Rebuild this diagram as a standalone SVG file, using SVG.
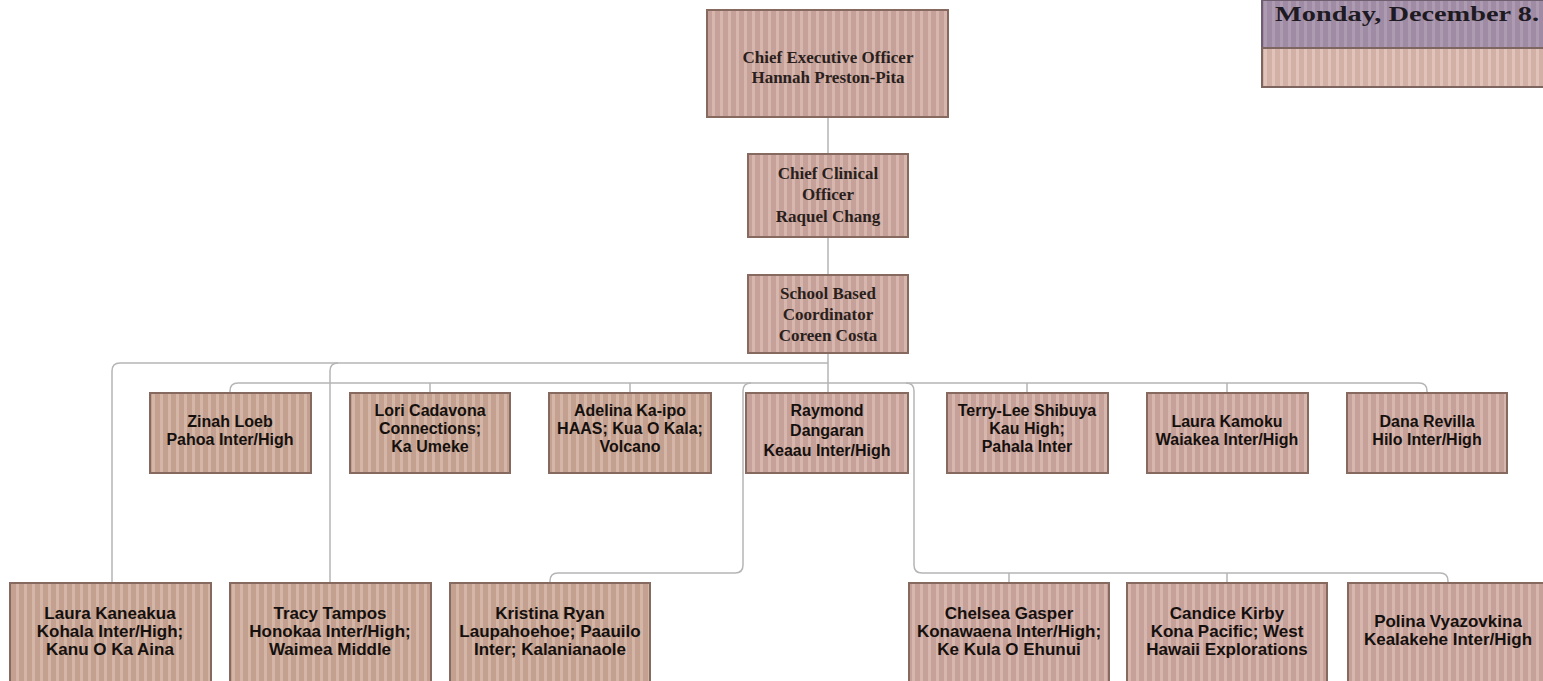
<svg xmlns="http://www.w3.org/2000/svg" width="1543" height="681" viewBox="0 0 1543 681">
<defs>
<pattern id="tan" width="8" height="10" patternUnits="userSpaceOnUse"><rect width="8" height="10" fill="#c3a08f"/><rect x="0" width="3" height="10" fill="#d4b6a6"/></pattern>
<pattern id="pink" width="8" height="10" patternUnits="userSpaceOnUse"><rect width="8" height="10" fill="#c6a199"/><rect x="0" width="3" height="10" fill="#d6b6ad"/></pattern>
<pattern id="purple" width="8" height="10" patternUnits="userSpaceOnUse"><rect width="8" height="10" fill="#9f8ba4"/><rect x="0" width="3" height="10" fill="#ad9bb2"/></pattern>
<pattern id="lighttan" width="8" height="10" patternUnits="userSpaceOnUse"><rect width="8" height="10" fill="#d3b0a5"/><rect x="0" width="3" height="10" fill="#e0c3b9"/></pattern>
</defs>
<style>
.box{stroke:#86695f;stroke-width:2}
.t{fill:url(#tan)}
.p{fill:url(#pink)}
.serif{font-family:"Liberation Serif","Times New Roman",serif;font-weight:bold;font-size:17px;fill:#2a1f1c;text-anchor:middle}
.sans{font-family:"Liberation Sans",Arial,sans-serif;font-weight:bold;font-size:16px;fill:#15100e;text-anchor:middle}
.sb{font-size:17px}
.conn{fill:none;stroke:#b5b5b5;stroke-width:1.5}
</style>
<rect width="1543" height="681" fill="#ffffff"/>

<g id="header">
<rect x="1262" y="0" width="290" height="48" fill="url(#purple)" stroke="#6f5d70" stroke-width="2"/>
<rect x="1262" y="48" width="290" height="39" fill="url(#lighttan)" stroke="#7d6660" stroke-width="2"/>
<text x="1275" y="21" font-family="Liberation Serif,serif" font-weight="bold" font-size="22" fill="#1e1a22" textLength="264" lengthAdjust="spacingAndGlyphs">Monday, December 8.</text>
</g>

<g id="connectors">
<path class="conn" d="M828,117 V154 M828,237 V275 M828,353 V393"/>
<path class="conn" d="M828,363 H120 Q112,363 112,371 V583"/>
<path class="conn" d="M338,363 Q330,363 330,371 V583"/>
<path class="conn" d="M230,393 V391 Q230,383 238,383 H1419 Q1427,383 1427,391 V393"/>
<path class="conn" d="M430,383 V393 M630,383 V393 M1027,383 V393 M1227,383 V393"/>
<path class="conn" d="M751,383 Q743,383 743,391 V565 Q743,573 735,573 H558 Q550,573 550,581 V583"/>
<path class="conn" d="M906,383 Q914,383 914,391 V565 Q914,573 922,573 H1440 Q1448,573 1448,581 V583"/>
<path class="conn" d="M1009,573 V583 M1227,573 V583"/>
</g>

<g id="ceo">
<rect class="box p" x="707" y="10" width="241" height="107"/>
<text class="serif" x="828" y="63">Chief Executive Officer</text>
<text class="serif" x="828" y="83">Hannah Preston-Pita</text>
</g>
<g id="cco">
<rect class="box p" x="748" y="154" width="160" height="83"/>
<text class="serif" x="828" y="179">Chief Clinical</text>
<text class="serif" x="828" y="200">Officer</text>
<text class="serif" x="828" y="222">Raquel Chang</text>
</g>
<g id="sbc">
<rect class="box p" x="748" y="275" width="160" height="78"/>
<text class="serif" x="828" y="299">School Based</text>
<text class="serif" x="828" y="320">Coordinator</text>
<text class="serif" x="828" y="341">Coreen Costa</text>
</g>

<g id="zinah">
<rect class="box t" x="150" y="393" width="161" height="80"/>
<text class="sans" x="230" y="427">Zinah Loeb</text>
<text class="sans" x="230" y="445">Pahoa Inter/High</text>
</g>
<g id="lori">
<rect class="box t" x="350" y="393" width="160" height="80"/>
<text class="sans" x="430" y="416">Lori Cadavona</text>
<text class="sans" x="430" y="434">Connections;</text>
<text class="sans" x="430" y="452">Ka Umeke</text>
</g>
<g id="adelina">
<rect class="box t" x="549" y="393" width="162" height="80"/>
<text class="sans" x="630" y="416">Adelina Ka-ipo</text>
<text class="sans" x="630" y="434">HAAS; Kua O Kala;</text>
<text class="sans" x="630" y="452">Volcano</text>
</g>
<g id="raymond">
<rect class="box p" x="746" y="393" width="162" height="80"/>
<text class="sans" x="827" y="416">Raymond</text>
<text class="sans" x="827" y="436">Dangaran</text>
<text class="sans" x="827" y="456">Keaau Inter/High</text>
</g>
<g id="terry">
<rect class="box p" x="947" y="393" width="161" height="80"/>
<text class="sans" x="1027" y="416">Terry-Lee Shibuya</text>
<text class="sans" x="1027" y="434">Kau High;</text>
<text class="sans" x="1027" y="452">Pahala Inter</text>
</g>
<g id="laurak">
<rect class="box p" x="1147" y="393" width="161" height="80"/>
<text class="sans" x="1227" y="427">Laura Kamoku</text>
<text class="sans" x="1227" y="445">Waiakea Inter/High</text>
</g>
<g id="dana">
<rect class="box p" x="1347" y="393" width="160" height="80"/>
<text class="sans" x="1427" y="427">Dana Revilla</text>
<text class="sans" x="1427" y="445">Hilo Inter/High</text>
</g>

<g id="laurakaneakua">
<rect class="box t" x="10" y="583" width="201" height="110"/>
<text class="sans sb" x="110" y="619">Laura Kaneakua</text>
<text class="sans sb" x="110" y="637">Kohala Inter/High;</text>
<text class="sans sb" x="110" y="655">Kanu O Ka Aina</text>
</g>
<g id="tracy">
<rect class="box t" x="230" y="583" width="201" height="110"/>
<text class="sans sb" x="330" y="619">Tracy Tampos</text>
<text class="sans sb" x="330" y="637">Honokaa Inter/High;</text>
<text class="sans sb" x="330" y="655">Waimea Middle</text>
</g>
<g id="kristina">
<rect class="box t" x="450" y="583" width="200" height="110"/>
<text class="sans sb" x="550" y="619">Kristina Ryan</text>
<text class="sans sb" x="550" y="637">Laupahoehoe; Paauilo</text>
<text class="sans sb" x="550" y="655">Inter; Kalanianaole</text>
</g>
<g id="chelsea">
<rect class="box p" x="909" y="583" width="200" height="110"/>
<text class="sans sb" x="1009" y="619">Chelsea Gasper</text>
<text class="sans sb" x="1009" y="637">Konawaena Inter/High;</text>
<text class="sans sb" x="1009" y="655">Ke Kula O Ehunui</text>
</g>
<g id="candice">
<rect class="box p" x="1127" y="583" width="200" height="110"/>
<text class="sans sb" x="1227" y="619">Candice Kirby</text>
<text class="sans sb" x="1227" y="637">Kona Pacific; West</text>
<text class="sans sb" x="1227" y="655">Hawaii Explorations</text>
</g>
<g id="polina">
<rect class="box p" x="1348" y="583" width="200" height="110"/>
<text class="sans sb" x="1448" y="627">Polina Vyazovkina</text>
<text class="sans sb" x="1448" y="645">Kealakehe Inter/High</text>
</g>
</svg>
